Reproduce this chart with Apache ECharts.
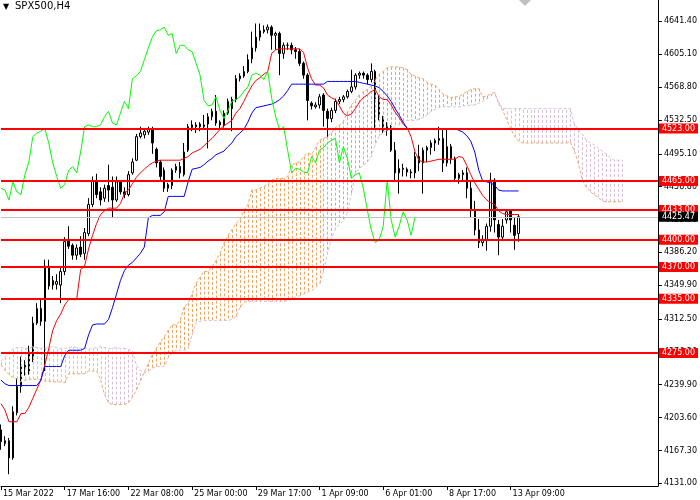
<!DOCTYPE html>
<html><head><meta charset="utf-8">
<script src="https://cdn.jsdelivr.net/npm/echarts@6/dist/echarts.min.js"></script>
<style>html,body{margin:0;padding:0;background:#fff}#chart{width:700px;height:500px}</style>
</head><body><div id="chart"></div>
<script>
// ---- data (SPX500, H4) ----
const timeLabels = ['15 Mar 2022','17 Mar 16:00','22 Mar 08:00','25 Mar 00:00','29 Mar 17:00','1 Apr 09:00','6 Apr 01:00','8 Apr 17:00','13 Apr 09:00'];
const yTicks = [4131.00,4167.30,4203.60,4239.90,4276.20,4312.50,4349.90,4386.20,4422.50,4458.80,4495.10,4532.50,4568.80,4605.10,4641.40];
const levels = [4523,4465,4433,4400,4370,4335,4275];
const lastPrice = 4425.47;

const opens=[4190,4175,4178,4159,4209,4238,4257,4255,4268,4308,
 4324,4310,4371,4355,4351,4350,4365,4400,4394,4383,
 4392,4385,4407,4439,4465,4453,4446,4460,4458,4444,
 4464,4453,4450,4474,4488,4514,4516,4519,4522,4500,
 4486,4477,4457,4460,4477,4481,4472,4499,4524,4527,
 4528,4525,4528,4536,4542,4530,4527,4540,4555,4555,
 4578,4581,4586,4600,4612,4624,4630,4632,4635,4626,
 4628,4606,4615,4615,4610,4608,4595,4582,4551,4547,
 4549,4560,4542,4534,4543,4553,4555,4558,4564,4569,
 4582,4584,4582,4577,4586,4556,4536,4521,4525,4499,
 4474,4479,4478,4475,4474,4492,4485,4499,4502,4507,
 4510,4512,4485,4503,4490,4468,4472,4474,4457,4433,
 4411,4397,4400,4415,4466,4417,4403,4422,4433,4416,
 4407];
const closes=[4177,4178,4159,4210,4238,4260,4263,4277,4308,4324,
 4310,4371,4349,4350,4354,4365,4398,4393,4383,4391,
 4384,4408,4439,4465,4450,4444,4457,4455,4444,4464,
 4453,4450,4472,4486,4514,4518,4520,4523,4507,4485,
 4470,4457,4461,4477,4481,4474,4497,4525,4527,4525,
 4525,4527,4536,4542,4529,4527,4540,4553,4545,4578,
 4581,4586,4599,4612,4624,4631,4632,4635,4626,4628,
 4606,4615,4615,4610,4608,4595,4582,4554,4548,4549,
 4558,4543,4534,4543,4553,4555,4558,4564,4569,4582,
 4584,4582,4577,4586,4556,4536,4521,4525,4499,4474,
 4479,4478,4475,4474,4492,4485,4499,4502,4507,4510,
 4512,4485,4503,4490,4468,4472,4474,4457,4433,4411,
 4397,4400,4415,4466,4422,4403,4415,4431,4422,4405,
 4425.47];
const highs=[4196,4183,4181,4216,4247,4271,4267,4283,4315,4330,
 4334,4378,4378,4360,4362,4370,4403,4415,4396,4395,
 4404,4413,4446,4470,4473,4458,4461,4483,4470,4470,
 4466,4458,4476,4490,4517,4525,4523,4525,4525,4502,
 4488,4480,4463,4479,4484,4486,4507,4528,4532,4530,
 4530,4538,4540,4545,4560,4532,4543,4556,4558,4582,
 4584,4592,4605,4630,4639,4639,4637,4638,4637,4630,
 4630,4618,4618,4618,4613,4611,4597,4584,4553,4552,
 4561,4562,4545,4546,4556,4558,4560,4566,4588,4584,
 4586,4586,4584,4595,4588,4560,4537,4530,4527,4508,
 4489,4484,4480,4478,4497,4505,4502,4504,4510,4512,
 4525,4523,4523,4506,4492,4474,4477,4480,4465,4443,
 4423,4405,4418,4474,4468,4422,4423,4433,4434,4425,
 4428];
const lows=[4168,4172,4141,4157,4206,4231,4250,4251,4265,4306,
 4305,4255,4345,4345,4345,4330,4361,4390,4378,4378,
 4381,4378,4404,4436,4446,4438,4442,4442,4424,4442,
 4450,4446,4448,4472,4487,4512,4512,4516,4495,4480,
 4466,4453,4453,4456,4474,4468,4470,4497,4520,4518,
 4520,4522,4501,4532,4526,4522,4524,4538,4520,4552,
 4575,4579,4584,4595,4608,4620,4628,4628,4610,4610,
 4582,4600,4610,4605,4600,4592,4578,4532,4544,4545,
 4545,4525,4512,4530,4540,4550,4552,4556,4562,4566,
 4578,4578,4572,4574,4523,4532,4518,4515,4497,4466,
 4451,4470,4470,4468,4468,4476,4451,4486,4494,4498,
 4505,4475,4481,4484,4465,4462,4466,4446,4425,4405,
 4391,4393,4388,4409,4408,4383,4400,4418,4408,4389,
 4398];
const tenkan=[4219,4212,4199,4199,4199,4208,4208,4215,4225,4235,
 4245,4262,4280,4300,4311,4318,4328,4334,4334,4334,
 4367,4371,4390,4405,4418,4428,4432,4435,4435,4435,
 4440,4451,4455,4462,4469,4474,4478,4482,4485,4487,
 4488,4488,4488,4488,4488,4488,4490,4492,4496,4498,
 4500,4504,4508,4512,4517,4522,4526,4529,4532,4540,
 4545,4553,4562,4570,4576,4579,4583,4586,4606,4610,
 4611,4611,4611,4611,4611,4611,4607,4590,4578,4571,
 4571,4568,4560,4557,4555,4548,4540,4537,4539,4545,
 4552,4557,4560,4564,4566,4558,4555,4555,4549,4541,
 4535,4528,4524,4514,4497,4488,4486,4486,4487,4488,
 4489,4489,4489,4489,4489,4492,4491,4482,4472,4463,
 4456,4449,4444,4441,4439,4432,4429,4428,4428,4428,
 4428];
const kijun=[4245,4241,4239,4239,4239,4239,4239,4239,4239,4239,
 4245,4260,4260,4260,4260,4260,4272,4278,4278,4278,
 4278,4280,4295,4306,4307,4307,4307,4312,4325,4340,
 4355,4366,4372,4375,4380,4385,4392,4424,4427,4427,
 4427,4431,4448,4448,4448,4448,4448,4464,4478,4479,
 4480,4483,4487,4490,4494,4496,4498,4503,4507,4514,
 4518,4522,4530,4540,4546,4547,4548,4549,4550,4552,
 4555,4559,4565,4572,4572,4572,4572,4572,4572,4572,
 4572,4572,4575,4575,4575,4575,4575,4575,4575,4575,
 4574,4573,4572,4571,4570,4568,4564,4559,4553,4545,
 4538,4530,4523,4523,4523,4523,4523,4523,4523,4523,
 4523,4523,4523,4523,4523,4521,4519,4515,4509,4497,
 4477,4465,4464,4463,4460,4455,4454,4454,4454,4454,
 4454];
const spanA=[4262,4256,4251,4248,4246,4243,4245,4246,4246,4246,
 4245,4244,4244,4243,4243,4243,4242,4252,4252,4252,
 4252,4252,4255,4255,4255,4246,4229,4220,4218,4218,
 4218,4218,4220,4226,4234,4244,4254,4263,4273,4280,
 4287,4293,4300,4306,4306,4311,4326,4330,4340,4352,
 4359,4365,4365,4370,4377,4385,4396,4405,4411,4418,
 4422,4432,4439,4455,4455,4457,4459,4462,4466,4468,
 4468,4468,4470,4482,4485,4486,4492,4496,4494,4502,
 4510,4512,4514,4518,4524,4527,4531,4541,4549,4554,
 4560,4564,4566,4570,4577,4583,4586,4590,4591,4591,
 4591,4590,4588,4583,4581,4579,4578,4574,4572,4571,
 4566,4561,4559,4557,4558,4558,4561,4564,4566,4567,
 4567,4558,4559,4561,4563,4550,4543,4533,4523,4514,
 4509,4507,4507,4507,4507,4507,4507,4507,4507,4507,
 4507,4507,4507,4508,4498,4485,4466,4458,4453,4450,
 4447,4443,4442,4442,4442,4442,4442];
const spanB=[4266,4270,4276,4280,4281,4281,4280,4280,4282,4281,
 4280,4280,4281,4282,4281,4280,4280,4281,4282,4281,
 4280,4280,4279,4280,4281,4282,4281,4280,4280,4281,
 4280,4280,4279,4277,4262,4256,4253,4255,4258,4260,
 4260,4260,4270,4275,4278,4278,4278,4280,4295,4308,
 4310,4311,4311,4311,4311,4311,4311,4311,4312,4315,
 4325,4331,4332,4332,4332,4332,4332,4332,4332,4332,
 4332,4332,4333,4334,4337,4338,4340,4342,4344,4347,
 4352,4365,4385,4402,4412,4417,4421,4430,4450,4474,
 4479,4482,4486,4492,4505,4515,4519,4521,4523,4525,
 4527,4530,4532,4532,4532,4533,4535,4538,4542,4544,
 4546,4547,4547,4547,4547,4547,4548,4548,4549,4549,
 4551,4553,4556,4559,4563,4552,4545,4545,4545,4545,
 4545,4545,4545,4545,4545,4545,4545,4545,4545,4545,
 4545,4545,4545,4545,4528,4522,4517,4510,4507,4505,
 4502,4498,4495,4491,4488,4488,4488];
// Chikou span = closes plotted 26 bars back
const chikou = closes.slice(26);

// ---- build ----
const CAT_COUNT = 166;
const cats = Array.from({length: CAT_COUNT}, (_, i) => String(i));
const ohlc = opens.map((o, i) => [o, closes[i], lows[i], highs[i]]);
const cloud = spanA.map((a, i) => [i, a, spanB[i]]);
const FONT = 'DejaVu Sans';

const chart = echarts.init(document.getElementById('chart'), null, {renderer: 'canvas'});
const lineStyleBase = {showSymbol: false, symbol: 'none', silent: true, animation: false};

chart.setOption({
  animation: false,
  backgroundColor: '#ffffff',
  title: [
    {text: '▼', left: 3, top: 3, padding: 0, textStyle: {fontSize: 8, color: '#000', fontWeight: 'normal', fontFamily: FONT}},
    {text: 'SPX500,H4', left: 15, top: 1, padding: 0, textStyle: {fontSize: 10, color: '#000', fontWeight: 'normal', fontFamily: FONT}}
  ],
  graphic: [{type: 'polygon', shape: {points: [[519, 0], [531, 0], [525, 6]]}, style: {fill: '#c0c0c0'}, silent: true}],
  grid: {left: 0, right: 41, top: 0, bottom: 14, containLabel: false},
  xAxis: {
    type: 'category', data: cats, boundaryGap: false,
    axisLine: {show: true, lineStyle: {color: '#000', width: 1}},
    axisTick: {show: true, length: 4, lineStyle: {color: '#000'},
      interval: (idx) => idx % 16 === 0 && idx / 16 < timeLabels.length},
    axisLabel: {
      show: true, interval: (idx) => idx % 16 === 0 && idx / 16 < timeLabels.length,
      formatter: (v) => timeLabels[Number(v) / 16] || '',
      align: 'left', padding: [0, 0, 0, 2], margin: 4,
      fontSize: 8, color: '#000', fontFamily: FONT
    },
    splitLine: {show: false}
  },
  yAxis: {
    type: 'value', position: 'right', min: 4128, max: 4665, scale: true,
    axisLine: {show: true, lineStyle: {color: '#000', width: 1}},
    axisTick: {show: true, length: 4, customValues: yTicks, lineStyle: {color: '#000'}},
    axisLabel: {show: true, customValues: yTicks, formatter: (v) => Number(v).toFixed(2),
      margin: 6, fontSize: 8, color: '#000', fontFamily: FONT},
    splitLine: {show: false}
  },
  series: [
    {
      name: 'SPX500', type: 'candlestick', data: ohlc, barWidth: 2, z: 2, silent: true,
      itemStyle: {color: '#ffffff', color0: '#000000', borderColor: '#000000', borderColor0: '#000000', borderColorDoji: '#000000', borderWidth: 1}
    },
    {
      name: 'Kumo', type: 'custom', data: cloud, z: 3, silent: true,
      encode: {x: 0, y: [1, 2]},
      renderItem: (params, api) => {
        const i = api.value(0), a = api.value(1), b = api.value(2);
        const p1 = api.coord([i, a]), p2 = api.coord([i, b]);
        const x = Math.round(p1[0]) + 0.5;
        return {type: 'line', shape: {x1: x, y1: p1[1], x2: x, y2: p2[1]},
          style: {stroke: a >= b ? '#f4a460' : '#d8bfd8', lineWidth: 1, lineDash: [3, 2]}};
      }
    },
    Object.assign({name: 'Senkou Span A', type: 'line', data: spanA, z: 3,
      lineStyle: {color: '#f4a460', width: 1, type: [3, 2]}}, lineStyleBase),
    Object.assign({name: 'Senkou Span B', type: 'line', data: spanB, z: 3,
      lineStyle: {color: '#d8bfd8', width: 1, type: [3, 2]}}, lineStyleBase),
    Object.assign({name: 'Tenkan-sen', type: 'line', data: tenkan, z: 4,
      lineStyle: {color: '#ff0000', width: 1}}, lineStyleBase),
    Object.assign({name: 'Kijun-sen', type: 'line', data: kijun, z: 4,
      lineStyle: {color: '#0000ff', width: 1}}, lineStyleBase),
    Object.assign({name: 'Chikou Span', type: 'line', data: chikou, z: 4,
      lineStyle: {color: '#00ff00', width: 1}}, lineStyleBase),
    {
      name: 'Levels', type: 'line', data: [], z: 6, clip: false, silent: true,
      markLine: {
        silent: true, symbol: ['none', 'none'], animation: false, precision: 2,
        lineStyle: {color: '#ff0000', width: 2, type: 'solid'},
        label: {show: true, position: 'end', distance: 1, formatter: (p) => Number(p.value).toFixed(2),
          backgroundColor: '#ff0000', color: '#ffffff', fontSize: 8, fontFamily: FONT, padding: [1, 3, 1, 3]},
        emphasis: {disabled: true},
        data: levels.map(v => ({yAxis: v})).concat([{
          yAxis: lastPrice, lineStyle: {color: '#c0c0c0', width: 1, type: 'solid'},
          label: {backgroundColor: '#000000', color: '#ffffff'}
        }])
      }
    }
  ]
});
</script></body></html>
